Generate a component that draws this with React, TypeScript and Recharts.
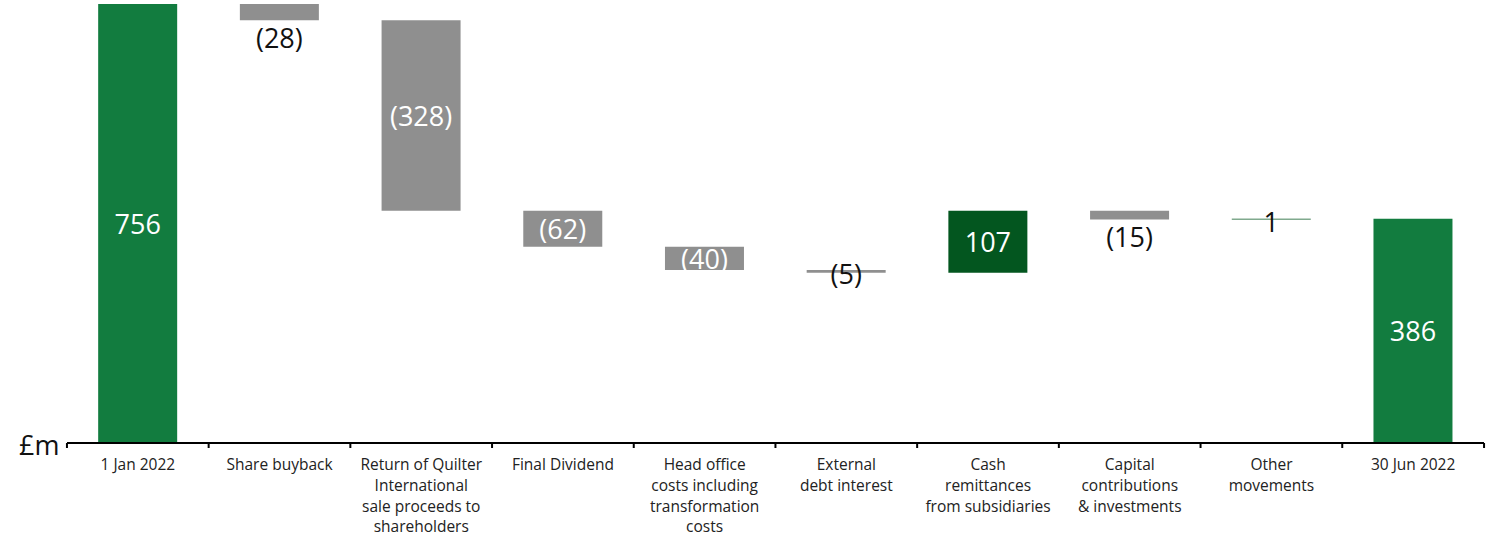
import React from 'react';
import { BarChart, Bar, XAxis, YAxis, Cell, LabelList } from 'recharts';

const categories = [
  ['1 Jan 2022'],
  ['Share buyback'],
  ['Return of Quilter', 'International', 'sale proceeds to', 'shareholders'],
  ['Final Dividend'],
  ['Head office', 'costs including', 'transformation', 'costs'],
  ['External', 'debt interest'],
  ['Cash', 'remittances', 'from subsidiaries'],
  ['Capital', 'contributions', '& investments'],
  ['Other', 'movements'],
  ['30 Jun 2022'],
];

// change values; first and last are totals
const values = [756, -28, -328, -62, -40, -5, 107, -15, 1, 386];
const isTotal = [true, false, false, false, false, false, false, false, false, true];

const GREEN = '#127c3f';
const DARK_GREEN = '#03561f';
const GREY = '#8f8f8f';

const buildRows = () => {
  let running = 0;
  return values.map((v, i) => {
    let base: number;
    let size: number;
    if (isTotal[i]) {
      base = 0;
      size = v;
      running = v;
    } else {
      const next = running + v;
      base = Math.min(running, next);
      size = Math.abs(v);
      running = next;
    }
    return { name: categories[i].join(' '), idx: i, base, size, value: v };
  });
};

const rows = buildRows();

const fmt = (v: number) => (v < 0 ? `(${Math.abs(v)})` : `${v}`);

const FONT = '"Open Sans", "DejaVu Sans", sans-serif';

const ValueLabel = (props: any) => {
  const { x, y, width, height, index } = props;
  const v = values[index];
  const cx = x + width / 2;
  let ty = y + height / 2;
  let fill = '#ffffff';
  if (height < 5) {
    fill = '#111111';
    ty = y + height / 2 + 2;
  } else if (height < 20) {
    fill = '#111111';
    ty = y + height + 17;
  }
  return (
    <text
      x={cx}
      y={ty}
      textAnchor="middle"
      dominantBaseline="central"
      fill={fill}
      fontSize={27}
      fontFamily={FONT}
    >
      {fmt(v)}
    </text>
  );
};

const BAND = 141.8;

const CategoryTick = (props: any) => {
  const { x, y, payload, index } = props;
  const i0 = payload.index ?? index;
  const lines = categories[i0] || [];
  const last = i0 === categories.length - 1;
  return (
    <g>
      <line x1={x - BAND / 2} y1={y - 8} x2={x - BAND / 2} y2={y - 3} stroke="#000" strokeWidth={2} />
      {last && (
        <line x1={x + BAND / 2} y1={y - 8} x2={x + BAND / 2} y2={y - 3} stroke="#000" strokeWidth={2} />
      )}
      <text textAnchor="middle" fontSize={15.5} fontFamily={FONT} fill="#222">
        {lines.map((l, i) => (
          <tspan key={i} x={x} y={y + 19 + i * 20.8}>
            {l}
          </tspan>
        ))}
      </text>
    </g>
  );
};

export default function App() {
  return (
    <div style={{ position: 'absolute', left: 0, top: 0, width: 1486, height: 537, background: '#fff' }}>
      <BarChart
        width={1486}
        height={537}
        data={rows}
        margin={{ top: 4, right: 2, left: 67, bottom: 0 }}
        barCategoryGap="22%"
      >
        <XAxis
          dataKey="name"
          interval={0}
          tickLine={false}
          axisLine={{ stroke: '#000', strokeWidth: 2 }}
          tick={<CategoryTick />}
          height={94}
        />
        <YAxis hide domain={[0, 756]} />
        <Bar dataKey="base" stackId="w" fill="transparent" isAnimationActive={false} />
        <Bar dataKey="size" stackId="w" isAnimationActive={false}>
          {rows.map((r, i) => (
            <Cell
              key={`c-${i}`}
              fill={isTotal[i] ? GREEN : r.value > 0 ? DARK_GREEN : GREY}
            />
          ))}
          <LabelList dataKey="size" content={<ValueLabel />} />
        </Bar>
      </BarChart>
      <div
        style={{
          position: 'absolute',
          left: 19,
          top: 429,
          fontFamily: FONT,
          fontSize: 27,
          color: '#111',
          lineHeight: '32px',
        }}
      >
        £m
      </div>
    </div>
  );
}
